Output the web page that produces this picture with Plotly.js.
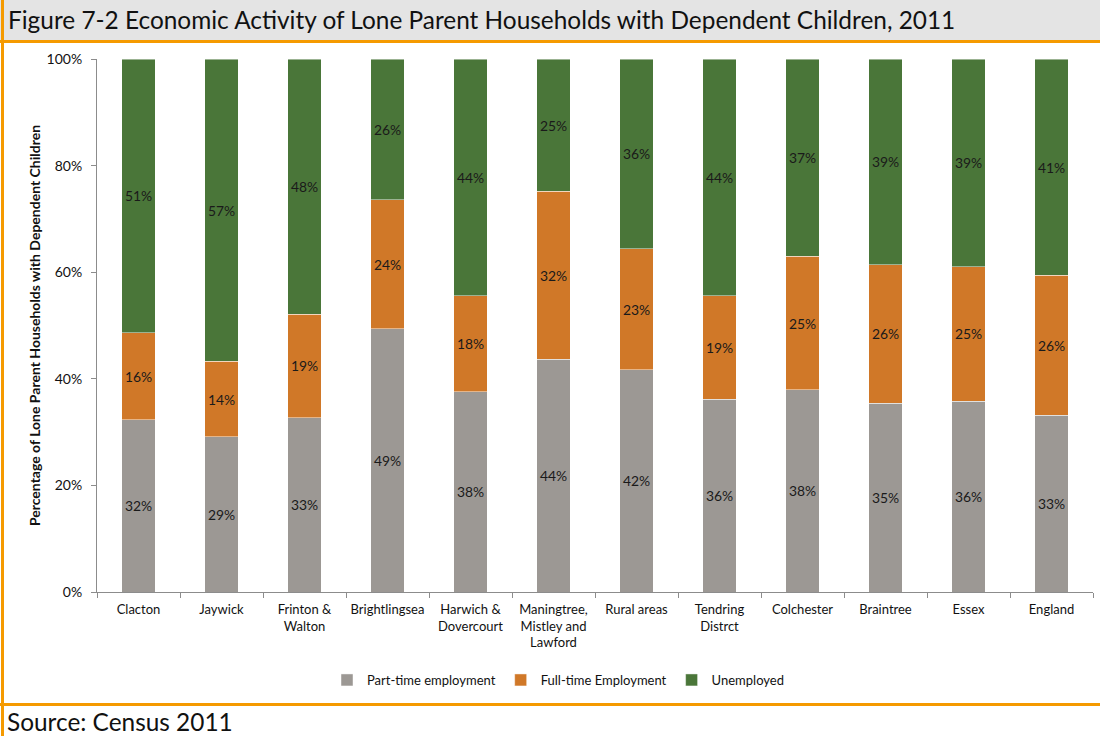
<!DOCTYPE html>
<html>
<head>
<meta charset="utf-8">
<script src="https://cdn.plot.ly/plotly-3.0.1.min.js"></script>
<style>
  html, body { margin: 0; padding: 0; background: #ffffff; }
  #chart { width: 1100px; height: 736px; }
</style>
</head>
<body>
<div id="chart"></div>
<script>
const categories = [
  "Clacton", "Jaywick", "Frinton &<br>Walton", "Brightlingsea",
  "Harwich &<br>Dovercourt", "Maningtree,<br>Mistley and<br>Lawford",
  "Rural areas", "Tendring<br>Distrct", "Colchester", "Braintree",
  "Essex", "England"
];
const partTime   = [32.3, 29.1, 32.7, 49.4, 37.6, 43.7, 41.7, 36.2, 37.9, 35.4, 35.8, 33.2];
const fullTime   = [16.3, 14.2, 19.4, 24.2, 18.0, 31.5, 22.7, 19.4, 25.1, 26.0, 25.2, 26.2];
const unemployed = [51.4, 56.7, 47.9, 26.4, 44.4, 24.8, 35.6, 44.4, 37.0, 38.6, 39.0, 40.6];
const seriesNames = ["Part-time employment", "Full-time Employment", "Unemployed"];
const seriesColors = ["#9c9894", "#d07828", "#4a7639"];
const yTickVals = [0, 20, 40, 60, 80, 100];

const FONT = "Lato, 'Open Sans', sans-serif";

function barTrace(name, values, color) {
  return {
    type: "bar",
    name: name,
    x: categories,
    y: values,
    marker: { color: color, line: { color: "rgba(255,255,255,0.45)", width: 1 } },
    texttemplate: "%{y:.0f}%",
    textposition: "inside",
    insidetextanchor: "middle",
    textangle: 0,
    insidetextfont: { family: FONT, size: 14, color: "#1a1a1a" },
    hoverinfo: "x+y+name"
  };
}

const data = [
  barTrace(seriesNames[0], partTime, seriesColors[0]),
  barTrace(seriesNames[1], fullTime, seriesColors[1]),
  barTrace(seriesNames[2], unemployed, seriesColors[2])
];

// plot area: x 97..1093, y 59..592 (px)
const L = 97, R = 1093, T = 59, B = 592;
const W = R - L, H = B - T;
const px = x => (x - L) / W;
const py = y => (B - y) / H;

const layout = {
  width: 1100,
  height: 736,
  margin: { l: L, r: 1100 - R, t: T, b: 736 - B },
  paper_bgcolor: "#ffffff",
  plot_bgcolor: "#ffffff",
  font: { family: FONT, size: 13, color: "#222222" },
  barmode: "stack",
  bargap: 0.6,
  showlegend: true,
  title: {
    text: "Figure 7-2 Economic Activity of Lone Parent Households with Dependent Children, 2011",
    font: { family: FONT, size: 24.4, color: "#111111" },
    xref: "container", yref: "container",
    x: 8 / 1100, xanchor: "left",
    y: 1 - 20 / 736, yanchor: "middle"
  },
  xaxis: {
    type: "category",
    showline: true, linecolor: "#8c8c8c", linewidth: 1,
    ticks: "outside", tickson: "boundaries", ticklen: 5, tickcolor: "#8c8c8c",
    ticklabelstandoff: 5,
    tickangle: 0,
    tickfont: { family: FONT, size: 13, color: "#111111" },
    showgrid: false, zeroline: false, fixedrange: true
  },
  yaxis: {
    range: [0, 100],
    tickvals: yTickVals,
    ticktext: yTickVals.map(v => v + "%"),
    showline: true, linecolor: "#8c8c8c", linewidth: 1,
    ticks: "outside", ticklen: 5, tickcolor: "#8c8c8c",
    ticklabelstandoff: 6,
    tickfont: { family: FONT, size: 14, color: "#111111" },
    showgrid: false, zeroline: false, fixedrange: true,
    title: {
      text: "<b>Percentage of Lone Parent Households with Dependent Children</b>",
      font: { family: FONT, size: 14, color: "#111111" },
      standoff: 2
    }
  },
  legend: {
    orientation: "h",
    x: px(558), xanchor: "center",
    y: py(680), yanchor: "middle",
    font: { family: FONT, size: 13, color: "#111111" },
    itemwidth: 30,
    traceorder: "normal",
    bgcolor: "rgba(0,0,0,0)"
  },
  shapes: [
    { type: "rect", xref: "paper", yref: "paper", x0: px(0), x1: px(1100), y0: py(0), y1: py(40),
      fillcolor: "#e4e4e4", line: { width: 0 }, layer: "below" },
    { type: "rect", xref: "paper", yref: "paper", x0: px(0), x1: px(1100), y0: py(40), y1: py(43),
      fillcolor: "#f59a00", line: { width: 0 } },
    { type: "rect", xref: "paper", yref: "paper", x0: px(0), x1: px(1100), y0: py(703), y1: py(706),
      fillcolor: "#f59a00", line: { width: 0 } },
    { type: "rect", xref: "paper", yref: "paper", x0: px(1), x1: px(4), y0: py(0), y1: py(736),
      fillcolor: "#f59a00", line: { width: 0 } }
  ],
  annotations: [
    { text: "Source: Census 2011", xref: "paper", yref: "paper",
      x: px(5), xanchor: "left", y: py(721), yanchor: "middle",
      showarrow: false, font: { family: FONT, size: 24.4, color: "#111111" } }
  ]
};

Plotly.newPlot("chart", data, layout, { displayModeBar: false, staticPlot: true });
</script>
</body>
</html>
